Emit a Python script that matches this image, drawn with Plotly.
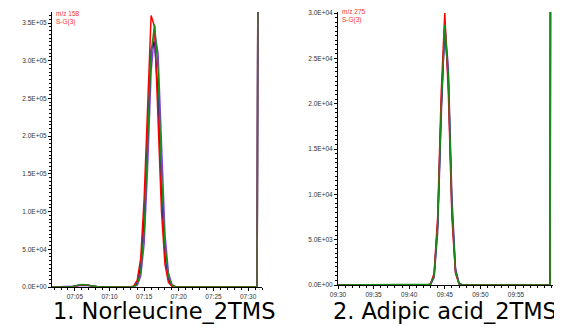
import plotly.graph_objects as go

# ---------------- data (retention time in seconds) ----------------
# Panel 1: Norleucine_2TMS, m/z 158
left_time = [421.7, 424.5, 425.0, 425.5, 426.0, 426.5, 427.0, 427.5, 428.0, 428.5,
             433.0, 433.5, 434.0, 434.5, 435.0, 435.5, 436.0, 436.5, 437.0, 437.5,
             438.0, 438.5, 439.0, 439.5, 440.0, 451.3, 451.4]
left_red = [0, 0, 1200, 2200, 2800, 2800, 2300, 1400, 500, 0,
            0, 1500, 9000, 38000, 118000, 250000, 360000, 345000, 225000, 100000,
            30000, 6000, 1000, 0, 0, 0, 400000]
left_green = [0, 0, 1500, 2600, 3200, 3100, 2500, 1500, 600, 0,
              0, 500, 4000, 20000, 75000, 185000, 310000, 348000, 290000, 150000,
              55000, 14000, 2500, 300, 0, 0, 400000]
left_blue = [0, 0, 1000, 1900, 2400, 2400, 2000, 1200, 400, 0,
             0, 800, 6000, 27000, 92000, 210000, 315000, 325000, 255000, 125000,
             42000, 10000, 1500, 0, 0, 0, 400000]
left_purple = [0, 0, 1300, 2400, 3000, 3000, 2500, 1600, 700, 0,
               0, 300, 2500, 14000, 58000, 160000, 285000, 338000, 310000, 180000,
               70000, 19000, 3500, 400, 0, 0, 400000]

# Panel 2: Adipic acid_2TMS, m/z 275
right_time = [570.0, 582.5, 583.0, 583.5, 584.0, 584.5, 585.0, 585.5, 586.0,
              586.5, 587.0, 587.5, 599.8, 599.85]
right_red = [0, 5, 115, 1300, 7500, 21200, 30000, 21200, 7500, 1300, 115, 0, 0, 40000]
right_green = [0, 0, 80, 1000, 6500, 19500, 28700, 23000, 8800, 1600, 150, 0, 0, 40000]
right_blue = [0, 0, 90, 1100, 6800, 19800, 28500, 22500, 8300, 1500, 130, 0, 0, 40000]
right_purple = [0, 0, 60, 800, 5800, 18500, 28800, 24000, 9800, 1900, 200, 0, 0, 40000]

left_xticks = [425, 430, 435, 440, 445, 450]
left_xlabels = ["07:05", "07:10", "07:15", "07:20", "07:25", "07:30"]
right_xticks = [570, 575, 580, 585, 590, 595]
right_xlabels = ["09:30", "09:35", "09:40", "09:45", "09:50", "09:55"]

left_yticks = [0, 50000, 100000, 150000, 200000, 250000, 300000, 350000]
left_ylabels = ["0.0E+00", "5.0E+04", "1.0E+05", "1.5E+05", "2.0E+05", "2.5E+05", "3.0E+05", "3.5E+05"]
right_yticks = [0, 5000, 10000, 15000, 20000, 25000, 30000]
right_ylabels = ["0.0E+00", "5.0E+03", "1.0E+04", "1.5E+04", "2.0E+04", "2.5E+04", "3.0E+04"]

titles = ["1. Norleucine_2TMS", "2. Adipic acid_2TMS"]
mz_labels = ["m/z 158", "m/z 275"]
filter_label = "S-G(3)"

# ---------------- figure ----------------
# the page body has an 8px margin, so the figure is drawn 8px smaller and
# reference page coordinates are shifted by that offset
OFF = 8
W, H = 562 - OFF, 327 - OFF

def px(x):
    return (x - OFF) / W

def py(y):
    return 1 - (y - OFF) / H

colors = {"purple": "#8a3fd8", "blue": "#0000ff", "red": "#ff0000", "green": "#1a8a1a"}

fig = go.Figure()
series_left = [("purple", left_purple), ("blue", left_blue), ("red", left_red), ("green", left_green)]
series_right = [("purple", right_purple), ("blue", right_blue), ("red", right_red), ("green", right_green)]
for name, ys in series_left:
    fig.add_trace(go.Scatter(x=left_time, y=ys, mode="lines", xaxis="x", yaxis="y",
                             line=dict(color=colors[name], width=1.5), showlegend=False))
for name, ys in series_right:
    fig.add_trace(go.Scatter(x=right_time, y=ys, mode="lines", xaxis="x2", yaxis="y2",
                             line=dict(color=colors[name], width=1.5), showlegend=False))

tickfont = dict(family="Liberation Sans, Arial, sans-serif", size=6.5, color="#333333")

def xax(domain, rng, tv, tt, anchor):
    return dict(domain=domain, range=rng, tickmode="array", tickvals=tv, ticktext=tt,
                automargin=False,
                showgrid=False, zeroline=False, showline=True, linecolor="black", linewidth=1,
                ticks="outside", ticklen=3, tickcolor="black", tickfont=tickfont, anchor=anchor,
                minor=dict(tickmode="linear", tick0=tv[0], dtick=1, ticklen=2, ticks="outside",
                           tickcolor="black"))

def yax(domain, rng, tv, tt, anchor, minor_dtick):
    return dict(domain=domain, range=rng, tickmode="array", tickvals=tv, ticktext=tt,
                automargin=False,
                showgrid=False, zeroline=False, showline=True, linecolor="black", linewidth=1,
                ticks="outside", ticklen=3, tickcolor="black", tickfont=tickfont, anchor=anchor,
                minor=dict(tickmode="linear", tick0=0, dtick=minor_dtick, ticklen=2,
                           ticks="outside", tickcolor="black"))

fig.update_layout(
    width=W, height=H, margin=dict(l=0, r=0, t=0, b=0),
    paper_bgcolor="white", plot_bgcolor="white",
    xaxis=xax([px(52), px(262)], [421.7, 452.0], left_xticks, left_xlabels, "y"),
    yaxis=yax([py(287), py(12)], [0, 364600], left_yticks, left_ylabels, "x", 5000),
    xaxis2=xax([px(338), px(553)], [570.0, 600.2], right_xticks, right_xlabels, "y2"),
    yaxis2=yax([py(285), py(12)], [0, 30110], right_yticks, right_ylabels, "x2", 500),
)

ann_font = dict(family="Liberation Sans, Arial, sans-serif", size=6.5, color="#ff3030")
fig.add_annotation(x=px(54), y=py(14), xref="paper", yref="paper", text=mz_labels[0],
                   showarrow=False, xanchor="left", yanchor="middle", font=ann_font)
fig.add_annotation(x=px(54), y=py(22.5), xref="paper", yref="paper", text=filter_label,
                   showarrow=False, xanchor="left", yanchor="middle", font=ann_font)
fig.add_annotation(x=px(340), y=py(11), xref="paper", yref="paper", text=mz_labels[1],
                   showarrow=False, xanchor="left", yanchor="middle", font=ann_font)
fig.add_annotation(x=px(340), y=py(19.5), xref="paper", yref="paper", text=filter_label,
                   showarrow=False, xanchor="left", yanchor="middle", font=ann_font)

title_font = dict(family="DejaVu Sans, Verdana, sans-serif", size=22.5, color="black")
fig.add_annotation(x=px(164), y=py(311), xref="paper", yref="paper", text=titles[0],
                   showarrow=False, xanchor="center", yanchor="middle", font=title_font)
fig.add_annotation(x=px(445), y=py(311), xref="paper", yref="paper", text=titles[1],
                   showarrow=False, xanchor="center", yanchor="middle", font=title_font)

fig.write_html("out.html")
